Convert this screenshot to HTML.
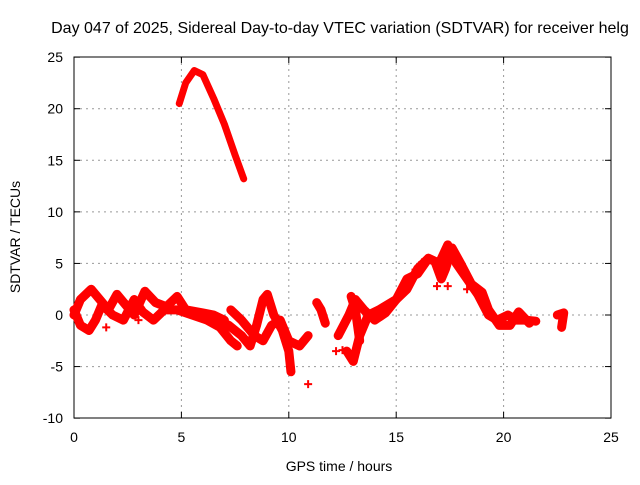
<!DOCTYPE html>
<html><head><meta charset="utf-8"><style>
body{margin:0;background:#fff}
svg{font-family:"Liberation Sans",sans-serif;font-size:14px}
</style></head><body>
<svg id="c" width="640" height="480">
<text x="340" y="33" text-anchor="middle" style="font-size:16px">Day 047 of 2025, Sidereal Day-to-day VTEC variation (SDTVAR) for receiver helg</text>
<g id="grid"></g>
<g id="axes"></g>
<g id="plot"></g>
<text x="339" y="471" text-anchor="middle">GPS time / hours</text>
<text transform="translate(20,237) rotate(-90)" text-anchor="middle">SDTVAR / TECUs</text>
</svg>
<script>
const xTicks=[0,5,10,15,20,25];
const yTicks=[-10,-5,0,5,10,15,20,25];
const trackA=[[4.9,20.5],[5.2,22.5],[5.6,23.7],[6.0,23.3],[6.5,21],[7.0,18.5],[7.5,15.5],[7.9,13.2]];
const track1=[[0,0],[0.3,1.5],[0.8,2.5],[1.2,1.5],[1.6,0.5],[2.0,2],[2.4,1],[2.8,0],[3.3,2.3],[3.8,1.2],[4.3,0.8],[4.8,1.8],[5.2,0.5],[6,0.2],[6.5,0],[7,-0.5]];
const track2=[[0,0.5],[0.3,-1],[0.7,-1.5],[1.0,-0.5],[1.3,1],[1.8,0],[2.3,-0.5],[2.8,1.5],[3.2,0.3],[3.7,-0.5],[4.2,0.5],[4.8,0.5],[5.5,0],[6.2,-0.5],[6.8,-1.2],[7.3,-2.5],[7.6,-3]];
const track3=[[6.5,-0.3],[7.2,-1],[7.8,-2],[8.2,-3],[8.5,-1],[8.8,1.5],[9.0,2],[9.3,0],[9.7,-1.5],[10.0,-3.5],[10.1,-5.5]];
const track4=[[7.3,0.5],[7.8,-0.5],[8.4,-2],[8.8,-2.5],[9.2,-1],[9.6,-0.5],[10,-2.5],[10.5,-3],[10.9,-2]];
const track5=[[11.3,1.2],[11.5,0.5],[11.7,-0.8]];
const track6=[[12.7,-3.5],[13.0,-4.5],[13.3,-2],[13.7,0],[14.2,0.5],[15.0,1.5],[15.5,3.5],[16,4],[16.5,5.5],[17,5],[17.4,6.8],[17.8,5],[18.3,3.5],[18.8,2],[19.3,0],[19.7,-0.5],[20.2,0],[20.6,-0.5],[21,-0.5],[21.5,-0.6]];
const track7=[[12.3,-2],[12.8,0],[13.1,1.5],[13.5,0.5],[14,-0.5],[14.5,0.2],[15,1.5],[15.5,2.5],[16,4.5],[16.5,5.5],[16.8,5.2],[17.1,3.5],[17.3,4.5],[17.6,6.5],[18,5],[18.5,3],[19,2.2],[19.3,0.5],[19.8,-1],[20.3,-1],[20.7,0.3],[21.2,-0.8]];
const track8=[[12.9,1.8],[13.1,0.5],[13.3,-2.5]];
const track9=[[22.5,0],[22.8,0.2],[22.7,-1.2]];
const tracks=[trackA,track1,track2,track3,track4,track5,track6,track7,track8,track9];
const singles=[[10.9,-6.7],[12.5,-3.4],[12.2,-3.5],[13.1,-3.7],[15.9,4.4],[16.2,5.1],[17.1,4],[17.4,2.8],[18.3,2.5],[16.9,2.8],[1.5,-1.2],[3.0,-0.5]];
const X=t=>74+t*(537/25);
const Y=v=>315-v*(361/35);
const NS='http://www.w3.org/2000/svg';
function mk(tag,attrs,parent){const e=document.createElementNS(NS,tag);for(const k in attrs)e.setAttribute(k,attrs[k]);parent.appendChild(e);return e;}
const grid=document.getElementById('grid'),axes=document.getElementById('axes'),plot=document.getElementById('plot');
mk('rect',{x:74,y:57,width:537,height:361,fill:'none',stroke:'#000','stroke-width':1},axes);
xTicks.forEach(t=>{const x=X(t);
 if(t>0&&t<25){const l=mk('line',{x1:x,y1:57,x2:x,y2:418,stroke:'#999','stroke-dasharray':'2,4'},grid);}
 mk('line',{x1:x,y1:418,x2:x,y2:412,stroke:'#000'},axes);mk('line',{x1:x,y1:57,x2:x,y2:63,stroke:'#000'},axes);
 const tx=mk('text',{x:x,y:442,'text-anchor':'middle'},axes);tx.textContent=t;
 
 });
yTicks.forEach(v=>{const y=Y(v);
 if(v>-10&&v<25){const l=mk('line',{x1:74,y1:y,x2:611,y2:y,stroke:'#999','stroke-dasharray':'2,4'},grid);}
 mk('line',{x1:74,y1:y,x2:80,y2:y,stroke:'#000'},axes);mk('line',{x1:611,y1:y,x2:605,y2:y,stroke:'#000'},axes);
 const tx=mk('text',{x:63,y:y+5,'text-anchor':'end'},axes);tx.textContent=v;
 
 });
tracks.forEach((tr,i)=>{
 const p=mk('polyline',{points:tr.map(d=>X(d[0])+','+Y(d[1])).join(' '),fill:'none',stroke:'#f00','stroke-width':i===0?7:9,'stroke-linejoin':'round','stroke-linecap':'round'},plot);
 
 });
singles.forEach(d=>{const x=X(d[0]),y=Y(d[1]);
 const p=mk('path',{d:`M${x-4},${y}H${x+4}M${x},${y-4}V${y+4}`,stroke:'#f00','stroke-width':2},plot);
 
 });
</script>
</body></html>
